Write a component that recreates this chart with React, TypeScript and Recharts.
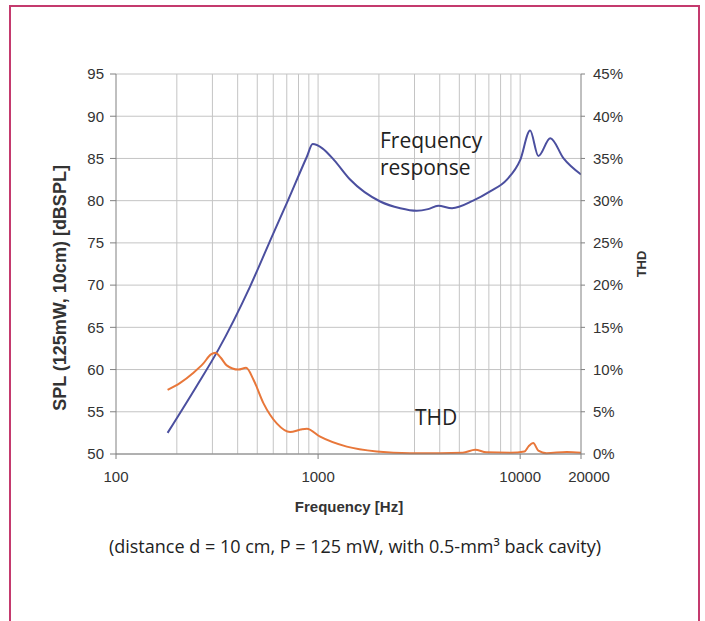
import { LineChart, Line, XAxis, YAxis, CartesianGrid, ReferenceLine } from "recharts";

// frequency response (dBSPL)
const splFreq = [180, 250, 320, 460, 600, 700, 880, 940, 1050, 1200, 1440, 2030, 2550, 3080, 3500, 3930, 4600, 5850, 7100, 8600, 10000, 11200, 12300, 14100, 16400, 20000];
const splValues = [52.5, 58.0, 62.3, 69.8, 76.1, 79.7, 85.2, 86.7, 86.2, 84.8, 82.5, 79.9, 79.1, 78.8, 79.0, 79.4, 79.1, 80.0, 81.1, 82.5, 84.8, 88.3, 85.3, 87.4, 85.0, 83.1];

// THD (%)
const thdFreq = [180, 207, 241, 270, 295, 310, 330, 353, 403, 440, 479, 537, 626, 727, 820, 880, 1024, 1387, 1950, 2850, 4000, 5200, 5990, 6800, 9000, 10500, 11000, 11600, 12300, 13500, 17000, 20000];
const thdValues = [7.6, 8.4, 9.6, 10.7, 11.8, 12.0, 11.4, 10.5, 10.0, 10.2, 8.8, 6.0, 3.6, 2.6, 2.9, 3.0, 2.05, 0.87, 0.3, 0.1, 0.1, 0.15, 0.5, 0.2, 0.15, 0.3, 0.9, 1.3, 0.4, 0.1, 0.25, 0.15];

const freqTicks = [100, 1000, 10000, 20000];
const gridFreqs = [200, 300, 400, 500, 600, 700, 800, 900, 1000, 2000, 3000, 4000, 5000, 6000, 7000, 8000, 9000, 10000];
const splTicks = [50, 55, 60, 65, 70, 75, 80, 85, 90, 95];
const thdTicks = [0, 5, 10, 15, 20, 25, 30, 35, 40, 45];

const splData = splFreq.map((f, i) => ({ f, spl: splValues[i] }));
const thdData = thdFreq.map((f, i) => ({ f, thd: thdValues[i] }));

const axisFont = "'Liberation Sans', Arial, sans-serif";
const noteFont = "'Open Sans', 'Noto Sans', sans-serif";
const tickStyle = { fontSize: 15, fill: "#333", fontFamily: axisFont };

// eslint-disable-next-line @typescript-eslint/no-explicit-any
function FreqTick({ x, y, payload }: any) {
  // excel nudged the last label a bit to the right
  const dx = payload.value === 20000 ? 8 : 0;
  return (
    <text x={x + dx} y={y} dy="0.71em" textAnchor="middle" {...tickStyle}>
      {payload.value}
    </text>
  );
}

export default function App() {
  return (
    <div style={{ position: "absolute", left: 0, top: 0, width: 705, height: 621, background: "#fff", overflow: "hidden" }}>
      <div
        style={{
          position: "absolute",
          left: 9,
          top: 5,
          width: 687,
          height: 640,
          border: "2px solid #c43a6e",
          borderBottom: "none",
        }}
      />
      <div style={{ position: "absolute", left: 0, top: 0 }}>
        <LineChart width={705} height={621} margin={{ top: 74, right: 64, left: 56, bottom: 127 }}>
          <CartesianGrid yAxisId="spl" vertical={false} stroke="#c4c4c4" />
          {gridFreqs.map((g) => (
            <ReferenceLine key={g} x={g} yAxisId="spl" stroke="#c4c4c4" />
          ))}
          <XAxis
            dataKey="f"
            type="number"
            scale="log"
            domain={[100, 20000]}
            ticks={freqTicks}
            allowDataOverflow
            height={40}
            tickSize={5}
            tickMargin={12}
            stroke="#808080"
            tick={<FreqTick />}
          />
          <YAxis
            yAxisId="spl"
            domain={[50, 95]}
            ticks={splTicks}
            width={60}
            tickSize={6}
            tickMargin={6}
            stroke="#808080"
            tick={tickStyle}
          />
          <YAxis
            yAxisId="thd"
            orientation="right"
            domain={[0, 45]}
            ticks={thdTicks}
            width={60}
            tickSize={4}
            tickMargin={8}
            stroke="#808080"
            tick={{ ...tickStyle, textAnchor: "start" }}
            tickFormatter={(v: number) => `${v}%`}
          />
          <Line
            yAxisId="spl"
            data={splData}
            dataKey="spl"
            type="monotone"
            stroke="#4b4f9f"
            strokeWidth={2}
            dot={false}
            isAnimationActive={false}
          />
          <Line
            yAxisId="thd"
            data={thdData}
            dataKey="thd"
            type="monotone"
            stroke="#e8773a"
            strokeWidth={2}
            dot={false}
            isAnimationActive={false}
          />
        </LineChart>
      </div>
      <svg width={705} height={621} style={{ position: "absolute", left: 0, top: 0, pointerEvents: "none" }}>
        <text
          transform="translate(66 288) rotate(-90)"
          textAnchor="middle"
          fontFamily={axisFont}
          fontWeight="bold"
          fontSize={18}
          fill="#333"
        >
          SPL (125mW, 10cm) [dBSPL]
        </text>
        <text
          transform="translate(646 264) rotate(-90)"
          textAnchor="middle"
          fontFamily={axisFont}
          fontWeight="bold"
          fontSize={13}
          fill="#333"
        >
          THD
        </text>
        <text x={349} y={512} textAnchor="middle" fontFamily={axisFont} fontWeight="bold" fontSize={15} fill="#333">
          Frequency [Hz]
        </text>
        <text x={380} y={148} fontFamily={noteFont} fontSize={21} fill="#222">
          Frequency
        </text>
        <text x={380} y={175} fontFamily={noteFont} fontSize={21} fill="#222">
          response
        </text>
        <text x={415} y={425} fontFamily={noteFont} fontSize={21} fill="#222">
          THD
        </text>
        <text x={355} y={553} textAnchor="middle" fontFamily={noteFont} fontSize={18} fill="#222">
          (distance d = 10 cm, P = 125 mW, with 0.5-mm³ back cavity)
        </text>
      </svg>
    </div>
  );
}
